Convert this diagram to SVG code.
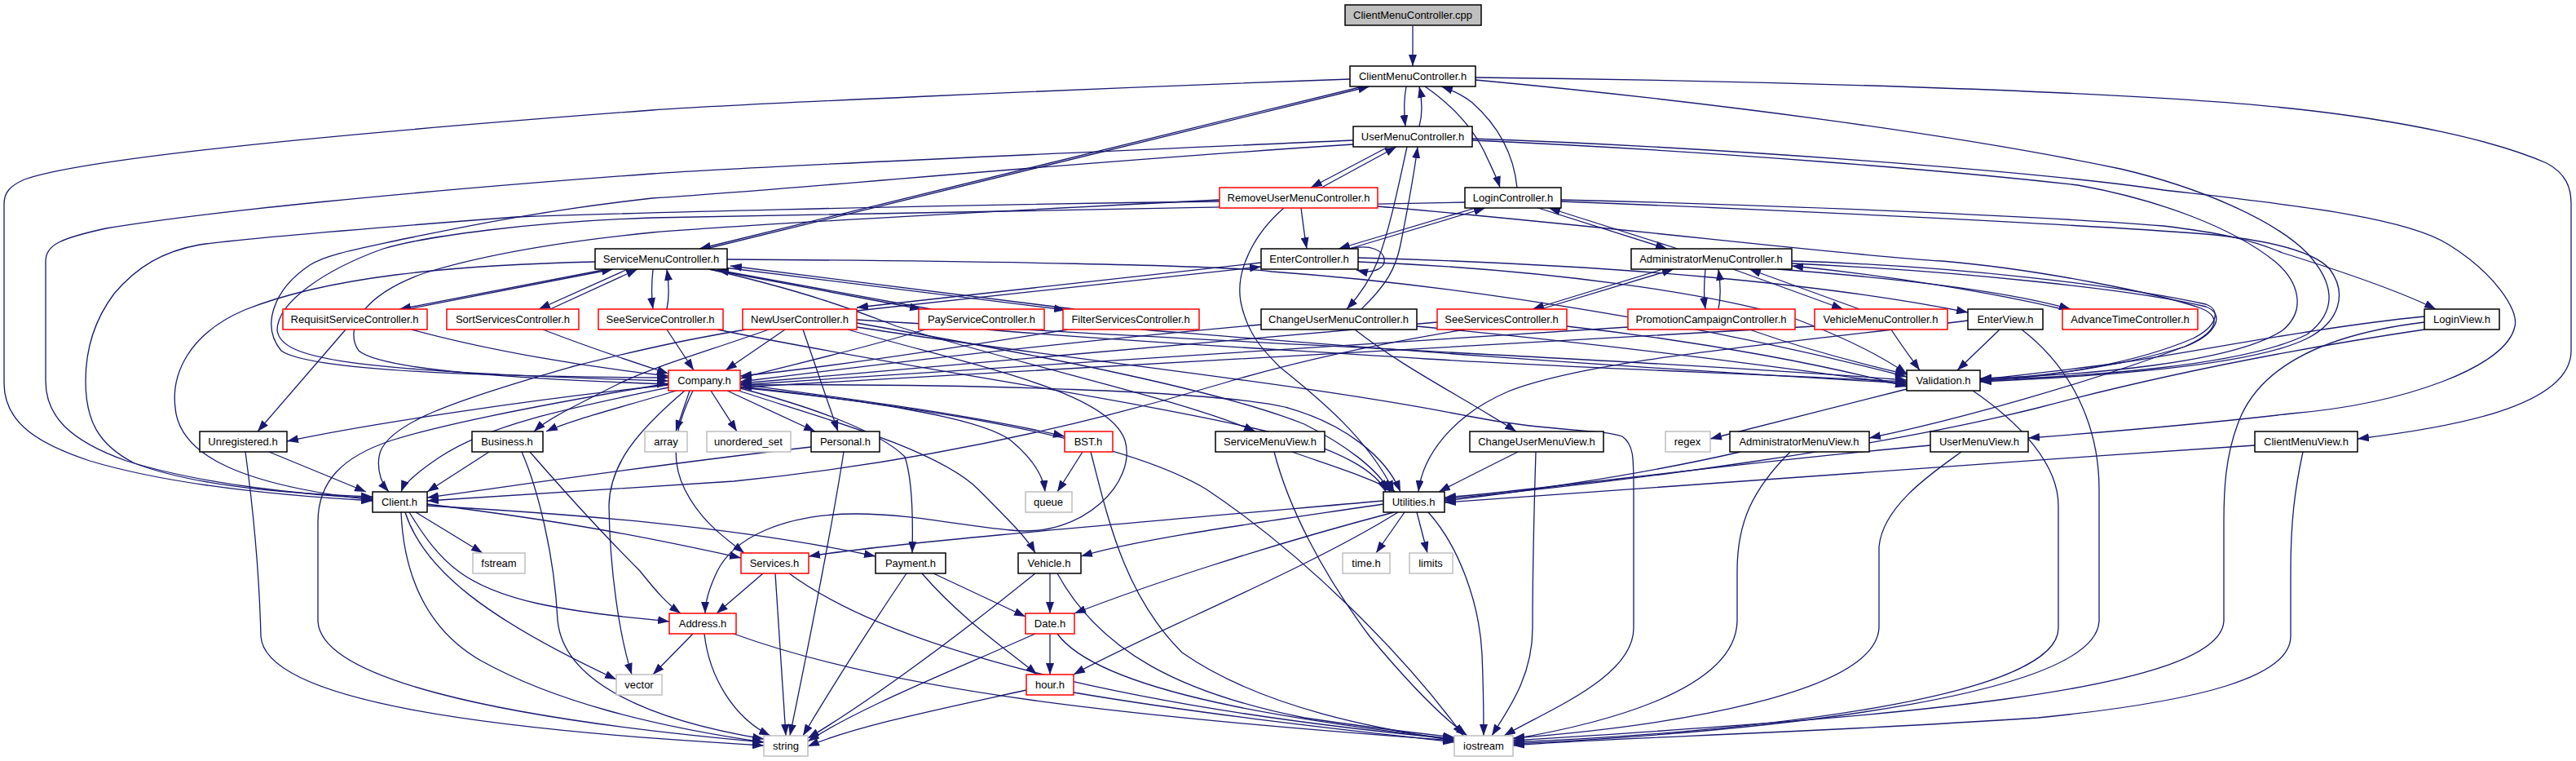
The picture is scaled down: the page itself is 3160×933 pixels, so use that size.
<svg xmlns="http://www.w3.org/2000/svg" width="3160" height="933" viewBox="0 0 3160 933">
<style>
.e{fill:none;stroke:#191970;stroke-width:1.3;marker-end:url(#ah)}
.n{fill:#fff;stroke:#000;stroke-width:1.5}
.r{fill:#fff;stroke:#f00;stroke-width:1.5}
.g{fill:#fff;stroke:#bfbfbf;stroke-width:1.5}
.root{fill:#bfbfbf;stroke:#000;stroke-width:1.5}
text{font-family:"Liberation Sans",Arial,sans-serif;font-size:13px;text-anchor:middle;fill:#000}
</style>
<defs>
<marker id="ah" markerUnits="userSpaceOnUse" markerWidth="14" markerHeight="10" refX="14" refY="5" orient="auto"><path d="M0,0 L14,5 L0,10 Z" fill="#191970"/></marker>
</defs>
<rect width="3160" height="933" fill="#fff"/>
<g id="edges">
<path class="e" d="M1733,32 L1733,81"/>
<path class="e" d="M1725,106 C1722,122 1722,138 1724,155"/>
<path class="e" d="M1741,155 C1745,140 1745,124 1741,106"/>
<path class="e" d="M1748,106 C1790,135 1812,165 1825,195 C1832,210 1837,220 1840,230"/>
<path class="e" d="M1861,230 C1858,200 1845,160 1805,125 C1792,115 1780,110 1768,106"/>
<path class="e" d="M1672,106 L858,305"/>
<path class="e" d="M866,305 L1680,106"/>
<path class="e" d="M1656,97 C1300,110 900,128 800,135 C400,165 100,195 30,220 C12,228 5,236 5,250 L5,470 C5,520 50,545 110,565 C210,595 350,608 457,614"/>
<path class="e" d="M1810,95 C2100,98 2600,110 2811,133 C2950,148 3060,172 3124,200 C3148,213 3154,230 3154,250 L3154,430 C3154,500 3000,525 2892,538"/>
<path class="e" d="M1810,98 C2100,125 2400,165 2601,207 C2700,230 2790,270 2830,310 C2862,345 2870,380 2830,410 C2750,450 2550,462 2429,466"/>
<path class="e" d="M1660,172 C1300,188 900,205 800,213 C500,235 250,260 130,280 C75,292 56,300 56,320 L56,467 C56,510 85,540 155,565 C250,595 380,607 457,611"/>
<path class="e" d="M1660,177 C1300,200 1000,230 800,243 C650,260 560,280 495,293 C440,305 400,312 380,325 C335,355 320,400 345,430 C380,455 600,462 820,463"/>
<path class="e" d="M1806,170 C2100,180 2500,210 2654,233 C2800,250 2950,265 3004,300 C3060,335 3090,380 3085,400 C3075,450 2950,495 2811,507 C2700,520 2580,530 2488,537"/>
<path class="e" d="M1806,172 C2100,185 2400,210 2549,227 C2650,245 2740,280 2790,320 C2820,345 2830,380 2800,405 C2740,445 2560,460 2429,464"/>
<path class="e" d="M1703,180 L1608,230"/>
<path class="e" d="M1621,230 L1713,180"/>
<path class="e" d="M1726,180 C1715,230 1705,280 1690,320 C1680,345 1665,365 1652,379"/>
<path class="e" d="M1670,379 C1700,350 1712,330 1718,300 C1728,250 1735,210 1739,180"/>
<path class="e" d="M1596,255 C1598,270 1600,288 1603,305"/>
<path class="e" d="M1496,247 C1100,252 750,262 633,266 C450,280 300,292 245,300 C200,308 168,327 140,360 C110,400 105,440 105,467 C105,515 120,545 165,568 C250,600 380,606 457,609"/>
<path class="e" d="M1496,245 C1200,260 900,277 800,285 C700,295 600,310 520,335 C450,360 420,400 440,430 C470,455 650,465 820,471"/>
<path class="e" d="M1797,248 C1700,252 1000,262 800,267 C650,272 520,290 470,305 C400,330 340,370 340,405 C345,440 420,455 820,467"/>
<path class="e" d="M1810,255 L1642,305"/>
<path class="e" d="M1655,305 L1822,255"/>
<path class="e" d="M1887,255 L2045,305"/>
<path class="e" d="M2058,305 L1900,255"/>
<path class="e" d="M1915,245 C2200,252 2500,265 2654,277 C2720,285 2760,293 2800,310 C2880,335 2950,360 2988,379"/>
<path class="e" d="M1915,247 C2200,258 2550,275 2706,287 C2790,295 2840,310 2858,330 C2880,360 2870,395 2830,415 C2760,450 2560,462 2429,468"/>
<path class="e" d="M1655,305 C1710,292 1712,343 1664,331"/>
<path class="e" d="M1666,321 C1900,330 2100,360 2200,390 C2280,420 2320,445 2339,458"/>
<path class="e" d="M1666,316 C2000,325 2250,350 2414,383"/>
<path class="e" d="M2040,330 L1880,379"/>
<path class="e" d="M1890,379 L2053,330"/>
<path class="e" d="M2092,330 C2090,350 2090,365 2092,379"/>
<path class="e" d="M2108,379 C2111,365 2111,350 2108,330"/>
<path class="e" d="M2126,330 L2261,379"/>
<path class="e" d="M2281,379 L2146,330"/>
<path class="e" d="M2180,330 C2380,345 2480,362 2540,379"/>
<path class="e" d="M2530,379 C2450,360 2320,338 2198,326"/>
<path class="e" d="M2198,320 C2400,326 2600,350 2706,373 C2725,380 2720,400 2690,415 C2620,445 2520,462 2429,467"/>
<path class="e" d="M2198,323 C2400,332 2620,355 2706,376 C2730,385 2720,410 2680,425 C2560,470 2400,515 2293,537"/>
<path class="e" d="M1690,253 C2000,280 2250,312 2382,320 C2500,330 2650,360 2700,378 C2730,390 2715,410 2680,425 C2600,450 2500,463 2429,465"/>
<path class="e" d="M1575,255 C1540,285 1515,330 1522,370 C1530,410 1550,430 1570,450 C1620,490 1680,540 1710,603"/>
<path class="e" d="M745,330 L490,379"/>
<path class="e" d="M500,379 L752,330"/>
<path class="e" d="M770,330 L661,379"/>
<path class="e" d="M675,379 L782,330"/>
<path class="e" d="M801,330 C799,350 799,365 801,379"/>
<path class="e" d="M818,379 C821,365 821,350 818,330"/>
<path class="e" d="M870,330 L1130,379"/>
<path class="e" d="M1142,379 L880,331"/>
<path class="e" d="M888,328 L1307,380"/>
<path class="e" d="M1318,379 L896,326"/>
<path class="e" d="M1051,381 L1547,327"/>
<path class="e" d="M1547,322 L1051,377"/>
<path class="e" d="M892,318 C1200,320 1500,325 1560,333 C1800,350 2100,400 2339,462"/>
<path class="e" d="M730,321 C550,325 400,340 300,380 C230,410 210,460 215,500 C220,560 300,595 457,613"/>
<path class="e" d="M870,330 C1000,360 1060,385 1100,400 C1300,460 1450,490 1540,529"/>
<path class="e" d="M963,404 L890,454"/>
<path class="e" d="M818,404 L851,454"/>
<path class="e" d="M915,404 C850,415 800,425 700,450 C560,490 470,520 465,560 C462,580 470,595 477,603"/>
<path class="e" d="M943,404 C870,430 800,450 760,470 C700,500 670,515 655,529"/>
<path class="e" d="M985,404 L1028,529"/>
<path class="e" d="M1051,396 C1300,440 1500,480 1600,520 C1650,545 1690,575 1705,603"/>
<path class="e" d="M1051,392 C1500,420 2000,440 2339,466"/>
<path class="e" d="M1040,404 C1200,450 1360,480 1380,540 C1395,590 1330,660 1240,650 C1180,645 1120,630 1050,630 C960,630 900,660 880,700 C868,725 865,740 865,752"/>
<path class="e" d="M1051,401 C1300,440 1600,470 1800,510 C1900,530 1960,525 1990,535 C2004,545 2004,560 2004,600 L2004,770 C2004,830 1900,870 1845,902"/>
<path class="e" d="M880,404 C1100,450 1400,490 1580,535 C1650,555 1690,580 1700,603"/>
<path class="e" d="M505,404 C600,430 720,450 820,461"/>
<path class="e" d="M424,404 L316,529"/>
<path class="e" d="M666,404 C720,425 780,445 820,458"/>
<path class="e" d="M1135,404 C1050,430 950,452 908,464"/>
<path class="e" d="M1310,404 C1150,430 1000,452 908,461"/>
<path class="e" d="M1210,404 C1400,420 1600,430 1750,440 C1950,452 2150,458 2339,468"/>
<path class="e" d="M1400,404 C1600,420 1900,445 2339,470"/>
<path class="e" d="M1547,398 C1300,420 1050,450 908,468"/>
<path class="e" d="M1738,400 C1950,420 2150,445 2339,472"/>
<path class="e" d="M1662,404 C1720,450 1800,490 1860,529"/>
<path class="e" d="M1797,404 C1700,420 1600,440 1500,470 C1300,530 1100,570 900,590 C750,600 620,608 524,614"/>
<path class="e" d="M1763,395 C1500,420 1200,445 908,470"/>
<path class="e" d="M1922,400 C2100,420 2250,450 2339,474"/>
<path class="e" d="M1997,401 C1700,420 1300,445 908,472"/>
<path class="e" d="M2146,404 C2220,430 2300,450 2339,459"/>
<path class="e" d="M2320,404 C2330,420 2345,440 2355,454"/>
<path class="e" d="M2226,400 C1900,420 1400,445 908,475"/>
<path class="e" d="M2453,404 L2401,454"/>
<path class="e" d="M2414,393 C2200,420 1950,440 1850,480 C1780,510 1745,560 1740,603"/>
<path class="e" d="M2480,404 C2540,450 2575,520 2575,600 L2575,760 C2575,850 2200,895 1856,912"/>
<path class="e" d="M2339,477 L2098,538"/>
<path class="e" d="M2420,479 C2480,520 2525,570 2525,620 L2525,770 C2525,850 2200,895 1856,910"/>
<path class="e" d="M2974,388 C2850,400 2700,430 2600,445 C2500,458 2460,462 2429,465"/>
<path class="e" d="M2974,404 C2800,430 2650,460 2500,500 C2300,550 2000,590 1772,612"/>
<path class="e" d="M2974,395 C2850,410 2770,450 2745,520 C2730,560 2728,600 2728,640 L2728,760 C2728,850 2300,880 1856,908"/>
<path class="e" d="M2766,546 C2400,570 2000,600 1772,616"/>
<path class="e" d="M2825,554 C2815,600 2810,640 2810,700 L2810,780 C2810,830 2700,860 2500,880 C2200,900 1950,905 1856,914"/>
<path class="e" d="M2368,546 C2100,570 1900,600 1772,610"/>
<path class="e" d="M2406,554 C2370,580 2310,620 2305,670 L2305,770 C2300,850 2050,890 1856,905"/>
<path class="e" d="M2135,554 C2000,585 1850,605 1772,614"/>
<path class="e" d="M2196,554 C2150,600 2131,640 2131,700 L2131,760 C2131,850 1950,890 1856,906"/>
<path class="e" d="M1862,554 C1820,575 1790,590 1765,603"/>
<path class="e" d="M1884,554 C1882,620 1880,700 1880,770 C1880,830 1850,870 1830,902"/>
<path class="e" d="M1585,554 C1630,570 1680,585 1712,603"/>
<path class="e" d="M1563,554 C1580,620 1620,700 1680,780 C1730,840 1770,880 1800,902"/>
<path class="e" d="M908,472 C1200,470 1500,480 1580,500 C1650,520 1700,560 1718,603"/>
<path class="e" d="M820,475 C700,500 600,520 540,560 C510,580 495,595 492,603"/>
<path class="e" d="M820,472 C650,490 450,520 352,541"/>
<path class="e" d="M830,479 C760,500 700,515 670,529"/>
<path class="e" d="M846,479 L829,529"/>
<path class="e" d="M872,479 L904,529"/>
<path class="e" d="M892,479 L1000,529"/>
<path class="e" d="M908,471 C1050,490 1200,510 1306,535"/>
<path class="e" d="M908,474 C1050,490 1200,510 1240,540 C1270,565 1280,585 1282,603"/>
<path class="e" d="M908,476 C1000,500 1080,530 1110,560 C1120,590 1120,640 1119,678"/>
<path class="e" d="M906,479 C1000,510 1150,550 1200,600 C1240,640 1260,660 1270,678"/>
<path class="e" d="M850,479 C830,520 820,560 840,600 C860,640 890,660 913,678"/>
<path class="e" d="M840,479 C780,530 748,570 747,620 C748,700 760,780 775,827"/>
<path class="e" d="M820,470 C700,490 560,515 480,540 C420,560 390,590 390,640 L390,760 C390,830 600,880 937,910"/>
<path class="e" d="M908,475 C1150,500 1380,540 1480,600 C1600,680 1720,800 1795,902"/>
<path class="e" d="M600,554 L524,603"/>
<path class="e" d="M640,554 C660,600 680,680 684,760 C690,830 780,880 937,906"/>
<path class="e" d="M650,554 C690,600 745,660 785,700 C805,725 818,740 835,752"/>
<path class="e" d="M330,554 L449,603"/>
<path class="e" d="M301,554 C310,620 318,700 320,780 C325,860 600,895 937,914"/>
<path class="e" d="M995,548 C800,570 600,600 524,610"/>
<path class="e" d="M1035,554 C1020,650 990,800 969,902"/>
<path class="e" d="M1328,554 L1297,603"/>
<path class="e" d="M1338,554 C1360,640 1380,730 1450,800 C1550,870 1700,895 1784,908"/>
<path class="e" d="M510,628 L592,678"/>
<path class="e" d="M497,628 C520,700 600,760 756,833"/>
<path class="e" d="M492,628 C495,700 520,770 590,810 C680,860 800,890 937,910"/>
<path class="e" d="M502,628 C540,690 570,720 660,740 C730,755 790,758 821,762"/>
<path class="e" d="M524,618 C700,640 800,660 909,684"/>
<path class="e" d="M524,620 C700,630 900,645 1074,682"/>
<path class="e" d="M936,703 L879,752"/>
<path class="e" d="M951,703 L964,902"/>
<path class="e" d="M968,703 C1100,800 1400,870 1784,906"/>
<path class="e" d="M1112,703 C1060,780 1010,860 985,902"/>
<path class="e" d="M1145,703 L1258,756"/>
<path class="e" d="M1131,703 C1180,760 1240,800 1272,827"/>
<path class="e" d="M1288,703 L1288,752"/>
<path class="e" d="M1270,703 C1150,800 1050,870 991,905"/>
<path class="e" d="M1297,703 C1350,800 1450,850 1600,880 C1700,895 1750,900 1784,904"/>
<path class="e" d="M850,777 L801,827"/>
<path class="e" d="M864,777 C870,830 900,880 945,902"/>
<path class="e" d="M900,777 C1100,850 1400,880 1784,908"/>
<path class="e" d="M1288,777 L1288,827"/>
<path class="e" d="M1270,777 C1150,830 1050,870 991,909"/>
<path class="e" d="M1297,777 C1350,850 1600,885 1784,906"/>
<path class="e" d="M1259,846 C1150,870 1050,890 991,915"/>
<path class="e" d="M1317,849 C1500,880 1700,900 1784,910"/>
<path class="e" d="M1723,628 L1688,678"/>
<path class="e" d="M1738,628 L1751,678"/>
<path class="e" d="M1752,628 C1790,670 1815,740 1818,802 C1820,850 1820,880 1820,902"/>
<path class="e" d="M1697,614 C1400,640 1100,665 992,682"/>
<path class="e" d="M1697,618 C1550,640 1400,660 1326,682"/>
<path class="e" d="M1710,628 C1550,670 1400,720 1318,752"/>
<path class="e" d="M1715,628 C1600,700 1400,780 1317,827"/>
</g>
<g id="nodes">
<g id="n-cpp"><rect class="root" x="1650" y="6" width="167" height="25"/><text x="1733" y="23">ClientMenuController.cpp</text></g>
<g id="n-cmc"><rect class="n" x="1656" y="81" width="154" height="25"/><text x="1733" y="98">ClientMenuController.h</text></g>
<g id="n-umc"><rect class="n" x="1660" y="155" width="146" height="25"/><text x="1733" y="172">UserMenuController.h</text></g>
<g id="n-rumc"><rect class="r" x="1496" y="230" width="194" height="25"/><text x="1593" y="247">RemoveUserMenuController.h</text></g>
<g id="n-lc"><rect class="n" x="1797" y="230" width="118" height="25"/><text x="1856" y="247">LoginController.h</text></g>
<g id="n-smc"><rect class="n" x="730" y="305" width="162" height="25"/><text x="811" y="322">ServiceMenuController.h</text></g>
<g id="n-ec"><rect class="n" x="1547" y="305" width="119" height="25"/><text x="1606" y="322">EnterController.h</text></g>
<g id="n-amc"><rect class="n" x="2001" y="305" width="197" height="25"/><text x="2099" y="322">AdministratorMenuController.h</text></g>
<g id="n-rsc"><rect class="r" x="347" y="379" width="177" height="25"/><text x="435" y="396">RequisitServiceController.h</text></g>
<g id="n-sortsc"><rect class="r" x="548" y="379" width="162" height="25"/><text x="629" y="396">SortServicesController.h</text></g>
<g id="n-seesc"><rect class="r" x="734" y="379" width="153" height="25"/><text x="810" y="396">SeeServiceController.h</text></g>
<g id="n-nuc"><rect class="r" x="911" y="379" width="140" height="25"/><text x="981" y="396">NewUserController.h</text></g>
<g id="n-psc"><rect class="r" x="1127" y="379" width="154" height="25"/><text x="1204" y="396">PayServiceController.h</text></g>
<g id="n-fsc"><rect class="r" x="1304" y="379" width="167" height="25"/><text x="1387" y="396">FilterServicesController.h</text></g>
<g id="n-cumc"><rect class="n" x="1547" y="379" width="191" height="25"/><text x="1642" y="396">ChangeUserMenuController.h</text></g>
<g id="n-seesvc"><rect class="r" x="1763" y="379" width="159" height="25"/><text x="1842" y="396">SeeServicesController.h</text></g>
<g id="n-pcc"><rect class="r" x="1997" y="379" width="205" height="25"/><text x="2099" y="396">PromotionCampaignController.h</text></g>
<g id="n-vmc"><rect class="r" x="2226" y="379" width="163" height="25"/><text x="2307" y="396">VehicleMenuController.h</text></g>
<g id="n-ev"><rect class="n" x="2414" y="379" width="92" height="25"/><text x="2460" y="396">EnterView.h</text></g>
<g id="n-atc"><rect class="r" x="2530" y="379" width="166" height="25"/><text x="2613" y="396">AdvanceTimeController.h</text></g>
<g id="n-lv"><rect class="n" x="2974" y="379" width="92" height="25"/><text x="3020" y="396">LoginView.h</text></g>
<g id="n-company"><rect class="r" x="820" y="454" width="88" height="25"/><text x="864" y="471">Company.h</text></g>
<g id="n-validation"><rect class="n" x="2339" y="454" width="90" height="25"/><text x="2384" y="471">Validation.h</text></g>
<g id="n-unreg"><rect class="n" x="245" y="529" width="107" height="25"/><text x="298" y="546">Unregistered.h</text></g>
<g id="n-business"><rect class="n" x="579" y="529" width="87" height="25"/><text x="622" y="546">Business.h</text></g>
<g id="n-array"><rect class="g" x="791" y="529" width="52" height="25"/><text x="817" y="546">array</text></g>
<g id="n-uset"><rect class="g" x="867" y="529" width="103" height="25"/><text x="918" y="546">unordered_set</text></g>
<g id="n-personal"><rect class="n" x="995" y="529" width="84" height="25"/><text x="1037" y="546">Personal.h</text></g>
<g id="n-bst"><rect class="r" x="1306" y="529" width="59" height="25"/><text x="1335" y="546">BST.h</text></g>
<g id="n-smv"><rect class="n" x="1491" y="529" width="134" height="25"/><text x="1558" y="546">ServiceMenuView.h</text></g>
<g id="n-cumv"><rect class="n" x="1803" y="529" width="164" height="25"/><text x="1885" y="546">ChangeUserMenuView.h</text></g>
<g id="n-regex"><rect class="g" x="2043" y="529" width="55" height="25"/><text x="2070" y="546">regex</text></g>
<g id="n-amv"><rect class="n" x="2122" y="529" width="171" height="25"/><text x="2207" y="546">AdministratorMenuView.h</text></g>
<g id="n-umv"><rect class="n" x="2368" y="529" width="120" height="25"/><text x="2428" y="546">UserMenuView.h</text></g>
<g id="n-cmv"><rect class="n" x="2766" y="529" width="126" height="25"/><text x="2829" y="546">ClientMenuView.h</text></g>
<g id="n-client"><rect class="n" x="457" y="603" width="67" height="25"/><text x="490" y="620">Client.h</text></g>
<g id="n-queue"><rect class="g" x="1258" y="603" width="57" height="25"/><text x="1286" y="620">queue</text></g>
<g id="n-utilities"><rect class="n" x="1697" y="603" width="75" height="25"/><text x="1734" y="620">Utilities.h</text></g>
<g id="n-fstream"><rect class="g" x="580" y="678" width="64" height="25"/><text x="612" y="695">fstream</text></g>
<g id="n-services"><rect class="r" x="909" y="678" width="83" height="25"/><text x="950" y="695">Services.h</text></g>
<g id="n-payment"><rect class="n" x="1074" y="678" width="86" height="25"/><text x="1117" y="695">Payment.h</text></g>
<g id="n-vehicle"><rect class="n" x="1249" y="678" width="77" height="25"/><text x="1287" y="695">Vehicle.h</text></g>
<g id="n-time"><rect class="g" x="1647" y="678" width="58" height="25"/><text x="1676" y="695">time.h</text></g>
<g id="n-limits"><rect class="g" x="1729" y="678" width="53" height="25"/><text x="1755" y="695">limits</text></g>
<g id="n-address"><rect class="r" x="821" y="752" width="82" height="25"/><text x="862" y="769">Address.h</text></g>
<g id="n-date"><rect class="r" x="1258" y="752" width="60" height="25"/><text x="1288" y="769">Date.h</text></g>
<g id="n-vector"><rect class="g" x="756" y="827" width="56" height="25"/><text x="784" y="844">vector</text></g>
<g id="n-hour"><rect class="r" x="1259" y="827" width="58" height="25"/><text x="1288" y="844">hour.h</text></g>
<g id="n-string"><rect class="g" x="937" y="902" width="54" height="25"/><text x="964" y="919">string</text></g>
<g id="n-iostream"><rect class="g" x="1784" y="902" width="72" height="25"/><text x="1820" y="919">iostream</text></g>
</g>
</svg>
